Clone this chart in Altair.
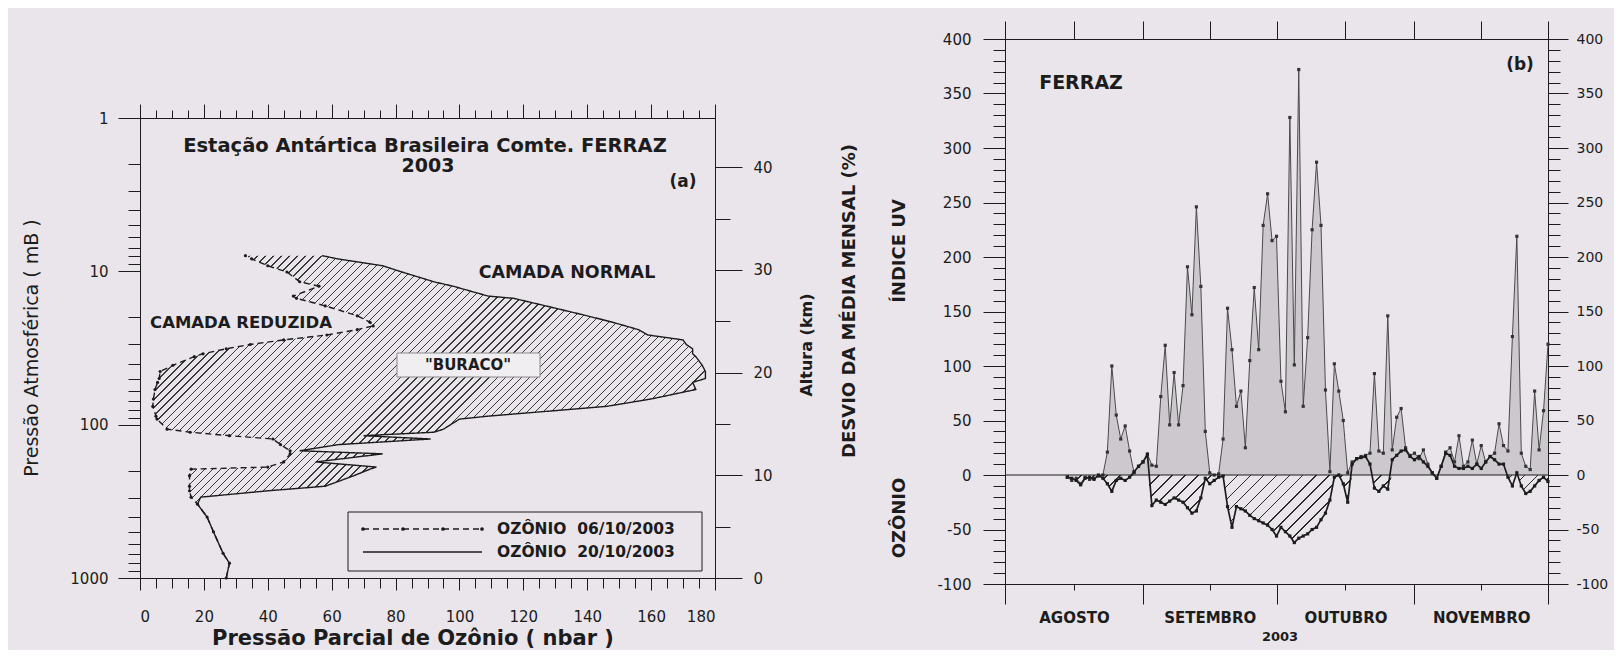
import altair as alt
import pandas as pd
import numpy as np

FONT = "DejaVu Sans"
INK = "#1c1c1c"
BG = "#e9e5ea"
LIGHT = "#cdc8ce"

# ---------------- (a) Perfis de ozônio ----------------
pressao_mb = [1000, 800, 690, 500, 400, 330, 297, 270, 252, 215, 195, 189, 175, 155, 148, 135,
              124, 118, 112, 107, 92, 88, 76, 68, 59, 53, 50, 45, 41, 36, 34.5, 32, 30, 28, 26,
              24, 22.7, 21.5, 19.5, 16.8, 15, 14.5, 12.5, 11.7, 10.1, 9.2, 8.3, 7.9]
ozonio_20_10 = [27, 28, 26, 23, 21, 18, 19, 40, 58, 67, 72, 74, 55, 76, 50, 62, 91, 70, 92, 95,
                100, 109, 146, 160, 174, 173, 177, 177, 176, 174, 173, 173, 171, 170, 159, 156,
                152, 148, 140, 127, 117, 109, 98, 92, 82, 76, 62, 57]
ozonio_06_10 = [27, 28, 26, 23, 21, 18, 16, 15.5, 15.5, 15.5, 16, 40, 45, 47, 47, 44, 41.6, 28,
                15.7, 8.5, 5.3, 5, 4, 4.2, 4.7, 5.5, 6, 6.3, 10.3, 17, 19.7, 27, 34.5, 45, 58.5,
                68, 73, 72, 68, 58, 49, 48, 56, 50, 46, 40, 35, 33]
serie_06 = "OZÔNIO\u00a0\u00a006/10/2003"
serie_20 = "OZÔNIO\u00a0\u00a020/10/2003"

ticks_oz = [0, 20, 40, 60, 80, 100, 120, 140, 160, 180]
ticks_oz_min = list(range(0, 181, 5))
ticks_p = [1, 10, 100, 1000]
ticks_p_min = [m * 10 ** e for e in range(0, 3) for m in range(2, 10)]
ticks_km = [0, 10, 20, 30, 40]
ticks_km_min = [5, 15, 25, 35]

# ---------------- (b) Desvios diários, Ferraz 2003 ----------------
dia_inicial = "2003-08-15"
dia_final = "2003-12-01"
indice_uv = [-2, -5, -3, -8, -2, -4, -3, -1, 0, 21, 100, 55, 33, 45, 22, 2, 8, 12, 19, 9,
             8, 72, 119, 46, 94, 46, 82, 191, 147, 246, 173, 40, 2, 0, 1, 33, 153, 115, 63, 77,
             25, 105, 172, 115, 229, 258, 215, 219, 86, 58, 328, 101, 372, 63, 126, 225, 287, 229, 78, 3,
             102, 77, 50, 2, 12, 15, 17, 18, 20, 93, 22, 20, 146, 23, 53, 61, 25, 18, 20, 15,
             23, 10, 2, -3, 8, 21, 25, 12, 36, 8, 12, 32, 10, 27, 12, 17, 20, 47, 27, 22,
             127, 219, 20, 8, 5, 77, 23, 59, 120]
ozonio_desvio = [-2, -3, -5, -9, -3, -2, -4, 0, -3, -8, -15, -5, -3, -5, -2, 3, 8, 12, 19, -28,
                 -23, -25, -27, -24, -21, -23, -25, -30, -35, -33, -21, -3, -8, -5, -2, -1, -29, -48, -29, -31,
                 -33, -37, -40, -42, -44, -46, -50, -56, -48, -52, -56, -62, -58, -56, -54, -50, -48, -41, -35, -23,
                 -2, 0, -8, -25, 10, 15, 16, 17, 10, -12, -15, -10, -13, 14, 18, 22, 23, 17, 14, 17,
                 12, 8, 2, -3, 8, 20, 18, 8, 6, 6, 8, 6, 10, 6, 12, 17, 14, 10, 10, -2,
                 -10, 2, -10, -17, -15, -10, -5, -2, -6]
meses = ["AGOSTO", "SETEMBRO", "OUTUBRO", "NOVEMBRO"]
inicio_meses = ["2003-08-01", "2003-09-01", "2003-10-01", "2003-11-01", "2003-12-01"]
ticks_b = list(range(-100, 401, 50))
ticks_b_min = list(range(-100, 401, 10))

# ---------------- layout (one canvas, two panels placed through scale ranges) ----------------
WA, HA = 575, 460          # panel (a) plot size
WB, HB = 543, 545          # panel (b) plot size
YA0 = 79                   # top of panel (a) below top of panel (b)
XB0 = 865                  # left of panel (b) right of left of panel (a)
W, H = XB0 + WB, HB
HYPHEN = "datum.value < 0 ? '-' + abs(datum.value) : '' + datum.value"


def eixo(orient, values, size, labels=False, **kw):
    opts = dict(orient=orient, values=list(values), tickSize=size, labels=labels,
                title=None, grid=False, domainColor=INK, tickColor=INK, domainWidth=1,
                tickWidth=1, labelFont=FONT, labelFontSize=15, labelColor=INK)
    opts.update(kw)
    return alt.Axis(**opts)


def hachura(wbb, hbb, periodo, largura, cor, fundo):
    n = int(round((wbb + hbb) / periodo))
    f = largura / periodo
    stops = []
    for i in range(n):
        o = i / n
        stops += [alt.GradientStop(color=cor, offset=o),
                  alt.GradientStop(color=cor, offset=o + f / n),
                  alt.GradientStop(color=fundo, offset=o + f / n),
                  alt.GradientStop(color=fundo, offset=(i + 1) / n)]
    s = (wbb + hbb) / (wbb ** 2 + hbb ** 2)
    return alt.LinearGradient(gradient="linear", stops=stops, x1=0, y1=0,
                              x2=float(s * wbb), y2=float(s * hbb))


um = pd.DataFrame({"u": [0]})


def texto(t, x, y, size, bold=True, angle=0, align="center"):
    return alt.Chart(um).mark_text(text=t, font=FONT, fontSize=size,
                                   fontWeight="bold" if bold else "normal", color=INK,
                                   align=align, baseline="middle", angle=angle).encode(
        x=alt.value(x), y=alt.value(y))


# ---- panel (a)
dfa = pd.DataFrame({"p": pressao_mb, "A": ozonio_20_10, "B": ozonio_06_10})
n = len(dfa)
dfl = pd.concat([
    pd.DataFrame({"p": pressao_mb, "oz": ozonio_06_10, "serie": serie_06, "i": range(n)}),
    pd.DataFrame({"p": pressao_mb, "oz": ozonio_20_10, "serie": serie_20, "i": range(n)}),
])

xa = alt.Scale(domain=[0, 180], range=[0, WA], nice=False, zero=False)
ya = alt.Scale(type="log", domain=[1, 1000], range=[YA0, YA0 + HA], nice=False)
ka = alt.Scale(domain=[0, 44.8], range=[YA0 + HA, YA0], nice=False, zero=False)
off_bot_a = (YA0 + HA) - H
off_top_a = -YA0
off_right_a = WA - W

wbb_a = (max(ozonio_20_10) - min(ozonio_06_10)) * WA / 180
hbb_a = (np.log10(max(pressao_mb)) - np.log10(min(pressao_mb))) / 3 * HA
hatch_a = hachura(wbb_a, hbb_a, 8, 1.3, "#3a3a3a", BG)

area_a = alt.Chart(dfa).mark_area(orient="horizontal", fill=hatch_a, strokeOpacity=0).encode(
    y=alt.Y("p:Q", scale=ya, axis=eixo("left", ticks_p, 22, True, labelPadding=10, format="d")),
    x=alt.X("B:Q", scale=xa, axis=eixo("bottom", ticks_oz, 12, True, labelPadding=19,
                                       offset=off_bot_a)),
    x2="A:Q")

linhas_a = alt.Chart(dfl).mark_line(color=INK, strokeWidth=1.4).encode(
    y=alt.Y("p:Q", scale=ya, axis=eixo("left", ticks_p_min, 12)),
    x=alt.X("oz:Q", scale=xa, axis=eixo("bottom", ticks_oz_min, 10, offset=off_bot_a)),
    order="i:Q",
    strokeDash=alt.StrokeDash(
        "serie:N", scale=alt.Scale(domain=[serie_06, serie_20], range=[[6, 4], [1, 0]]),
        legend=None))

pts_a = alt.Chart(dfa).mark_point(filled=True, size=10, color=INK, opacity=1).encode(
    y=alt.Y("p:Q", scale=ya, axis=eixo("right", [], 0, offset=off_right_a)),
    x=alt.X("B:Q", scale=xa, axis=eixo("top", ticks_oz_min, 8, offset=off_top_a)))

topo_a = alt.Chart(pd.DataFrame({"v": ticks_oz})).mark_tick(opacity=0).encode(
    x=alt.X("v:Q", scale=xa, axis=eixo("top", ticks_oz, 14, offset=off_top_a)))

km_maj = alt.Chart(pd.DataFrame({"km": ticks_km})).mark_point(opacity=0).encode(
    x=alt.X("km:Q", scale=xa, axis=None),
    y=alt.Y("km:Q", scale=ka, axis=eixo("right", ticks_km, 27, True, labelPadding=11,
                                        offset=off_right_a)))
km_min = alt.Chart(pd.DataFrame({"km": ticks_km_min})).mark_point(opacity=0).encode(
    x=alt.X("km:Q", scale=xa, axis=None),
    y=alt.Y("km:Q", scale=ka, axis=eixo("right", ticks_km_min, 15, offset=off_right_a)))

caixa = alt.Chart(um).mark_rect(fill="#f1eef1", stroke="#8a8a8a", strokeWidth=1).encode(
    x=alt.value(257), x2=alt.value(400), y=alt.value(YA0 + 235), y2=alt.value(YA0 + 259))

# legend box of panel (a)
LX0, LX1, LY0, LY1 = 208, 562, YA0 + 394, YA0 + 453
leg_box = alt.Chart(um).mark_rect(fill=BG, stroke=INK, strokeWidth=1).encode(
    x=alt.value(LX0), x2=alt.value(LX1), y=alt.value(LY0), y2=alt.value(LY1))
leg_dash = alt.Chart(um).mark_rule(color=INK, strokeWidth=1.4, strokeDash=[6, 4]).encode(
    x=alt.value(LX0 + 15), x2=alt.value(LX0 + 134), y=alt.value(LY0 + 17))
leg_solid = alt.Chart(um).mark_rule(color=INK, strokeWidth=1.4).encode(
    x=alt.value(LX0 + 15), x2=alt.value(LX0 + 134), y=alt.value(LY0 + 40))
leg_dots = [alt.Chart(um).mark_point(filled=True, size=14, color=INK, opacity=1).encode(
    x=alt.value(LX0 + xx), y=alt.value(LY0 + 17)) for xx in (15, 55, 95, 134)]

textos_a = [
    texto("Estação Antártica Brasileira Comte. FERRAZ", 285, YA0 + 28, 19.5),
    texto("2003", 288, YA0 + 48, 19),
    texto("(a)", 543, YA0 + 64, 17),
    texto("CAMADA NORMAL", 427, YA0 + 155, 17.5),
    texto("CAMADA REDUZIDA", 101, YA0 + 205, 16.5),
    texto("\"BURACO\"", 328, YA0 + 247, 15),
    texto("Pressão Atmosférica ( mB )", -108, YA0 + 230, 19, bold=False, angle=270),
    texto("Altura (km)", 667, YA0 + 227, 16, angle=270),
    texto("Pressão Parcial de Ozônio ( nbar )", 273, 600, 21),
    texto(serie_06, LX0 + 149, LY0 + 17, 15.5, align="left"),
    texto(serie_20, LX0 + 149, LY0 + 40, 15.5, align="left"),
]

# ---- panel (b)
datas = pd.date_range(dia_inicial, dia_final, freq="D")
origem = pd.Timestamp(inicio_meses[0])
dfb = pd.DataFrame({"data": datas, "uv": indice_uv, "oz": ozonio_desvio})
dfb["d"] = (dfb["data"] - origem).dt.days
dfb["uvpos"] = dfb["uv"].clip(lower=0)
dfb["ozneg"] = dfb["oz"].clip(upper=0)
dfb["zero"] = 0
dfb = dfb.drop(columns=["data"])

limites = [(pd.Timestamp(m) - origem).days for m in inicio_meses]
meios = [(limites[i] + limites[i + 1]) / 2 for i in range(len(meses))]
topo_b = sorted(limites + meios)
expr = "'" + meses[-1] + "'"
for i in range(len(meses) - 2, -1, -1):
    expr = f"datum.value < {limites[i + 1]} ? '{meses[i]}' : ({expr})"

xb = alt.Scale(domain=[limites[0], limites[-1]], range=[XB0, XB0 + WB], nice=False, zero=False)
yb = alt.Scale(domain=[-100, 400], range=[HB, 0], nice=False, zero=False)
off_left_b = -XB0

wbb_b = float((dfb["d"].max() - dfb["d"].min()) * WB / (limites[-1] - limites[0]))
hbb_b = float(-dfb["ozneg"].min() * HB / 500)
hatch_b = hachura(wbb_b, hbb_b, 13, 1.7, "#2a2a2a", BG)

uv_area = alt.Chart(dfb).mark_area(fill=LIGHT, strokeOpacity=0).encode(
    x=alt.X("d:Q", scale=xb, axis=eixo("top", topo_b, 18)),
    y=alt.Y("uvpos:Q", scale=yb, axis=eixo("left", ticks_b_min, 12, offset=off_left_b)),
    y2="zero:Q")
oz_area = alt.Chart(dfb).mark_area(fill=hatch_b, strokeOpacity=0).encode(
    x=alt.X("d:Q", scale=xb, axis=eixo("bottom", limites, 20)),
    y=alt.Y("ozneg:Q", scale=yb, axis=eixo("left", ticks_b, 22, True, labelPadding=12,
                                           offset=off_left_b, labelExpr=HYPHEN)),
    y2="zero:Q")
uv_line = alt.Chart(dfb).mark_line(color="#4a4a4a", strokeWidth=1).encode(
    x=alt.X("d:Q", scale=xb, axis=eixo("bottom", meios, 6, True, labelExpr=expr,
                                       labelPadding=20, labelFontWeight="bold",
                                       labelFontSize=15)),
    y=alt.Y("uv:Q", scale=yb, axis=eixo("right", ticks_b_min, 12)))
oz_line = alt.Chart(dfb).mark_line(color=INK, strokeWidth=1.7).encode(
    x=alt.X("d:Q", scale=xb, axis=None),
    y=alt.Y("oz:Q", scale=yb, axis=eixo("right", ticks_b, 20, True, labelPadding=8,
                                        labelFontSize=14, labelExpr=HYPHEN)))
uv_pts = alt.Chart(dfb).mark_point(filled=True, size=10, shape="square", color="#333", opacity=1).encode(
    x=alt.X("d:Q", scale=xb, axis=None), y=alt.Y("uv:Q", scale=yb, axis=None))
oz_pts = alt.Chart(dfb).mark_point(filled=True, size=10, shape="square", color=INK, opacity=1).encode(
    x=alt.X("d:Q", scale=xb, axis=None), y=alt.Y("oz:Q", scale=yb, axis=None))
zero_b = alt.Chart(pd.DataFrame({"d0": [limites[0]], "d1": [limites[-1]], "zero": [0]})).mark_rule(
    color=INK, strokeWidth=1).encode(
    x=alt.X("d0:Q", scale=xb, axis=None), x2="d1:Q",
    y=alt.Y("zero:Q", scale=yb, axis=None))

textos_b = [
    texto("FERRAZ", XB0 + 76, 44, 19),
    texto("(b)", XB0 + 515, 26, 17),
    texto("DESVIO DA MÉDIA MENSAL (%)", XB0 - 155, 262, 18, angle=270),
    texto("ÍNDICE UV", XB0 - 105, 212, 18, angle=270),
    texto("OZÔNIO", XB0 - 105, 479, 18, angle=270),
    texto("2003", XB0 + 275, 598, 13),
]

chart = alt.layer(
    area_a, linhas_a, pts_a, topo_a, km_maj, km_min, caixa,
    leg_box, leg_dash, leg_solid, *leg_dots, *textos_a,
    uv_area, oz_area, uv_line, oz_line, uv_pts, oz_pts, zero_b, *textos_b
).resolve_scale(x="independent", y="independent").resolve_axis(
    x="independent", y="independent").properties(
    width=W, height=H,
    autosize=alt.AutoSizeParams(type="none"),
    padding={"left": 132, "top": 31, "right": 66, "bottom": 66},
).configure(background=BG, font=FONT).configure_view(strokeWidth=0)

chart.save("out.html", embed_options={"renderer": "svg", "actions": False})
